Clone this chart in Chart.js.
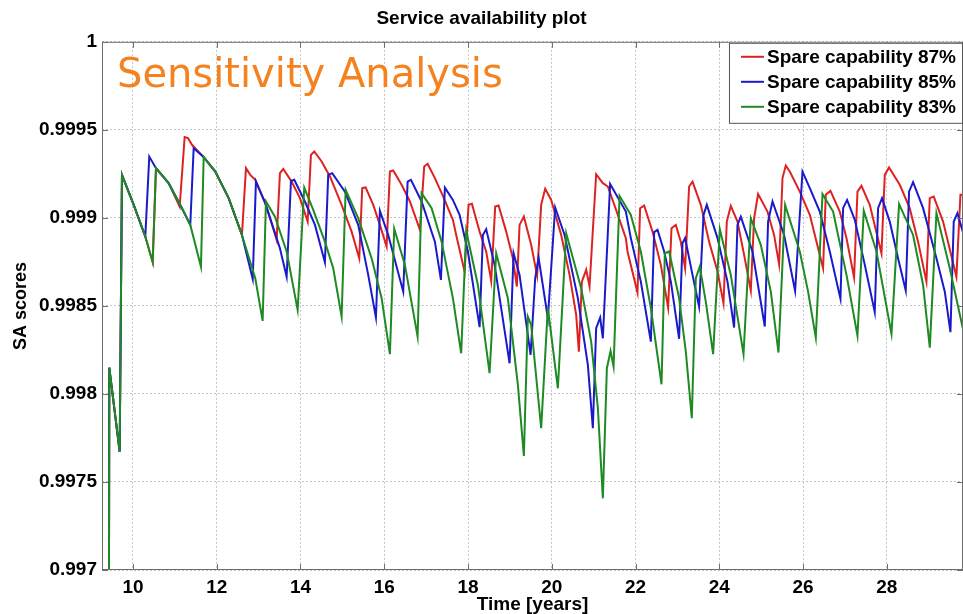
<!DOCTYPE html>
<html>
<head>
<meta charset="utf-8">
<title>Service availability plot</title>
<script src="https://cdn.jsdelivr.net/npm/chart.js@4.4.1/dist/chart.umd.min.js"></script>
<style>
  html, body { margin: 0; padding: 0; background: #fff; }
  #wrap { width: 963px; height: 614px; }
</style>
</head>
<body>
<div id="wrap"><canvas id="saChart" width="963" height="614"></canvas></div>
<script>
// [time in years, SA score] per spare-capability level
const sa87 = [
  [9.427,0.99700],[9.434,0.998149],[9.682,0.997672],[9.737,0.999244],[10.017,0.999074],[10.294,0.998894],[10.470,0.998748],[10.549,0.999282],[10.852,0.999197],
  [11.115,0.999064],[11.234,0.999459],[11.313,0.999453],[11.408,0.999415],[11.688,0.999345],[11.965,0.999263],[12.285,0.999112],[12.602,0.998903],
  [12.698,0.999282],[12.800,0.999244],[12.920,0.999216],[13.158,0.999084],[13.397,0.998903],[13.430,0.998875],
  [13.509,0.999254],[13.588,0.999278],[13.788,0.999206],[13.987,0.999112],[14.171,0.998979],
  [14.249,0.999358],[14.328,0.999377],[14.505,0.999320],[14.703,0.999235],[14.982,0.999074],[15.221,0.998922],[15.403,0.998771],
  [15.474,0.999169],[15.555,0.999173],[15.737,0.999074],[15.896,0.998960],[16.056,0.998837],
  [16.135,0.999263],[16.214,0.999269],[16.414,0.999188],[16.613,0.999093],[16.851,0.998932],
  [16.954,0.999292],[17.035,0.999307],[17.209,0.999226],[17.408,0.999121],[17.639,0.998989],[17.718,0.998903],[17.918,0.998695],
  [18.013,0.999074],[18.093,0.999080],[18.277,0.998922],[18.434,0.998809],[18.554,0.998642],
  [18.649,0.999064],[18.730,0.999070],[18.912,0.998922],[19.071,0.998771],[19.167,0.998610],
  [19.231,0.998960],[19.334,0.999007],[19.508,0.998847],[19.651,0.998672],
  [19.747,0.999074],[19.843,0.999165],[19.986,0.999102],[20.225,0.998903],[20.425,0.998676],[20.583,0.998449],[20.647,0.998240],
  [20.719,0.998638],[20.822,0.998705],[20.902,0.998610],
  [21.060,0.999248],[21.220,0.999197],[21.339,0.999178],[21.578,0.999017],[21.769,0.998885],[21.809,0.998809],[22.047,0.998576],
  [22.110,0.999055],[22.206,0.999070],[22.406,0.998922],[22.604,0.998733],[22.779,0.998490],
  [22.859,0.998941],[22.962,0.998960],[23.081,0.998865],[23.184,0.998714],
  [23.280,0.999178],[23.361,0.999206],[23.559,0.999074],[23.757,0.998865],[23.958,0.998695],[24.101,0.998515],
  [24.180,0.998979],[24.275,0.999068],[24.435,0.998979],[24.593,0.998790],[24.753,0.998587],
  [24.832,0.998998],[24.927,0.999135],[25.151,0.999036],[25.309,0.998903],[25.428,0.998737],
  [25.510,0.999226],[25.588,0.999297],[25.684,0.999263],[25.923,0.999149],[26.162,0.999017],[26.360,0.998828],[26.479,0.998714],
  [26.543,0.999131],[26.655,0.999153],[26.877,0.999036],[27.038,0.998885],[27.219,0.998661],
  [27.300,0.999149],[27.396,0.999182],[27.594,0.999074],[27.873,0.998799],
  [27.952,0.999244],[28.054,0.999286],[28.310,0.999188],[28.548,0.999055],[28.747,0.998865],[28.947,0.998638],
  [29.026,0.999112],[29.121,0.999121],[29.344,0.998979],[29.663,0.998666],
  [29.759,0.999131],[29.814,0.999131]
];

const sa85 = [
  [9.427,0.99700],[9.434,0.998149],[9.682,0.997672],[9.737,0.999244],[10.017,0.999074],[10.294,0.998894],
  [10.389,0.999348],[10.549,0.999282],[10.852,0.999197],[11.170,0.999055],[11.368,0.998960],
  [11.449,0.999396],[11.688,0.999345],[11.965,0.999263],[12.285,0.999112],[12.602,0.998903],
  [12.859,0.998653],[12.936,0.999206],[13.158,0.999084],[13.509,0.998828],[13.669,0.998666],
  [13.772,0.999210],[13.851,0.999216],[14.106,0.999093],[14.345,0.998960],[14.583,0.998748],
  [14.662,0.999244],[14.758,0.999254],[15.061,0.999149],[15.378,0.998960],[15.617,0.998676],[15.801,0.998434],
  [15.896,0.999040],[16.095,0.998903],[16.453,0.998581],
  [16.558,0.999206],[16.637,0.999216],[16.892,0.999093],[17.209,0.998865],[17.353,0.998648],
  [17.448,0.999172],[17.639,0.999102],[17.799,0.999017],[17.997,0.998809],[18.277,0.998379],
  [18.355,0.998903],[18.434,0.998936],[18.635,0.998733],[18.993,0.998174],
  [19.088,0.998799],[19.231,0.998676],[19.494,0.998222],
  [19.604,0.998657],[19.685,0.998774],[19.907,0.998430],
  [20.081,0.999059],[20.306,0.998903],[20.623,0.998544],[20.862,0.998165],[20.981,0.997805],
  [21.060,0.998373],[21.156,0.998434],[21.220,0.998316],
  [21.394,0.999192],[21.769,0.999036],[21.888,0.998885],[22.127,0.998638],[22.366,0.998297],
  [22.445,0.998919],[22.526,0.998932],[22.684,0.998809],[22.844,0.998638],[23.041,0.998313],
  [23.122,0.998856],[23.184,0.998885],[23.361,0.998676],[23.518,0.998496],
  [23.624,0.999017],[23.702,0.999074],[23.958,0.998885],[24.196,0.998638],[24.354,0.998377],
  [24.435,0.998960],[24.514,0.999007],[24.793,0.998809],[25.087,0.998383],
  [25.166,0.998979],[25.271,0.999093],[25.548,0.998903],[25.811,0.998585],
  [25.987,0.999263],[26.162,0.999169],[26.400,0.999036],[26.639,0.998809],[26.894,0.998540],
  [26.957,0.999055],[27.052,0.999102],[27.236,0.998989],[27.475,0.998733],[27.713,0.998464],
  [27.792,0.999055],[27.887,0.999112],[28.071,0.998979],[28.269,0.998771],[28.453,0.998587],
  [28.532,0.999149],[28.628,0.999203],[28.867,0.999055],[29.186,0.998771],[29.385,0.998581],[29.520,0.998351],
  [29.599,0.998979],[29.687,0.999027],[29.814,0.998922]
];

const sa83 = [
  [9.427,0.99700],[9.434,0.998149],[9.682,0.997672],[9.737,0.999244],[10.017,0.999074],[10.294,0.998894],[10.470,0.998748],
  [10.549,0.999282],[10.852,0.999197],[11.170,0.999055],[11.368,0.998960],[11.623,0.998723],
  [11.688,0.999345],[11.965,0.999263],[12.285,0.999112],[12.602,0.998903],[12.920,0.998657],[13.096,0.998415],
  [13.175,0.999093],[13.390,0.999007],[13.669,0.998809],[13.932,0.998477],
  [14.089,0.999172],[14.304,0.999045],[14.583,0.998865],[14.782,0.998714],[14.982,0.998439],
  [15.078,0.999159],[15.378,0.998998],[15.698,0.998771],[15.937,0.998544],[16.135,0.998226],
  [16.238,0.998938],[16.493,0.998733],[16.796,0.998326],
  [16.892,0.999140],[17.131,0.999055],[17.369,0.998865],[17.639,0.998544],[17.837,0.998231],
  [17.957,0.998926],[18.236,0.998619],[18.515,0.998118],
  [18.673,0.998799],[18.952,0.998544],[19.191,0.998051],[19.334,0.997648],
  [19.429,0.998439],[19.508,0.998392],[19.747,0.997805],
  [19.907,0.998490],[20.146,0.998032],
  [20.344,0.998913],[20.702,0.998601],[20.941,0.998297],[21.101,0.997919],[21.220,0.997407],
  [21.316,0.998146],[21.404,0.998244],[21.476,0.998155],
  [21.619,0.999125],[21.888,0.999017],[22.127,0.998809],[22.366,0.998487],[22.621,0.998055],
  [22.700,0.998799],[22.803,0.998809],[23.041,0.998544],[23.201,0.998240],[23.344,0.997862],
  [23.440,0.998657],[23.535,0.998723],[23.678,0.998524],[23.853,0.998226],
  [24.013,0.998936],[24.275,0.998676],[24.579,0.998226],
  [24.753,0.998998],[24.992,0.998847],[25.231,0.998581],[25.414,0.998235],
  [25.572,0.999074],[25.923,0.998809],[26.121,0.998581],[26.305,0.998320],
  [26.465,0.999135],[26.718,0.999036],[27.038,0.998676],[27.300,0.998331],
  [27.451,0.999040],[27.754,0.998809],[28.112,0.998341],
  [28.294,0.999078],[28.628,0.998903],[28.867,0.998619],[29.027,0.998263],
  [29.186,0.999027],[29.504,0.998714],[29.815,0.998373]
];

const seriesLabels = ['Spare capability 87%', 'Spare capability 85%', 'Spare capability 83%'];
const seriesColors = ['#dd2222', '#1a1acc', '#1e8a24'];
const xRange = [9.26, 29.82];
const xTickValues = [10, 12, 14, 16, 18, 20, 22, 24, 26, 28];
const yRange = [0.997, 1];

const fontFamily = '"Liberation Sans", Arial, Helvetica, sans-serif';

function toPoints(rows) {
  return rows.map(r => ({ x: r[0], y: r[1] }));
}

// box, inward ticks, legend and the overlay caption
const framePlugin = {
  id: 'frame',
  afterDraw(chart) {
    const { ctx, chartArea: a, scales } = chart;
    ctx.save();
    ctx.strokeStyle = '#6e6e6e';
    ctx.lineWidth = 1;
    ctx.strokeRect(a.left + 0.5, a.top + 0.5, a.right - a.left - 1, a.bottom - a.top - 1);

    ctx.beginPath();
    scales.x.ticks.forEach(t => {
      const px = Math.round(scales.x.getPixelForValue(t.value)) + 0.5;
      ctx.moveTo(px, a.bottom); ctx.lineTo(px, a.bottom - 6);
      ctx.moveTo(px, a.top); ctx.lineTo(px, a.top + 6);
    });
    scales.y.ticks.forEach(t => {
      const py = Math.round(scales.y.getPixelForValue(t.value)) + 0.5;
      ctx.moveTo(a.left, py); ctx.lineTo(a.left + 6, py);
      ctx.moveTo(a.right, py); ctx.lineTo(a.right - 6, py);
    });
    ctx.stroke();

    // caption
    ctx.fillStyle = '#f5821f';
    ctx.font = '40px "DejaVu Sans", Verdana, sans-serif';
    ctx.textBaseline = 'alphabetic';
    ctx.textAlign = 'left';
    ctx.fillText('Sensitivity Analysis', a.left + 15, a.top + 45);

    // legend
    ctx.font = 'bold 19px ' + fontFamily;
    const sets = chart.data.datasets;
    const textW = Math.max(...sets.map(d => ctx.measureText(d.label).width));
    const rowH = 25;
    const boxW = 12 + 23 + 4 + textW + 5;
    const boxH = sets.length * rowH + 5;
    const bx = a.right - 1 - boxW;
    const by = a.top + 1;
    ctx.fillStyle = '#fff';
    ctx.fillRect(bx, by, boxW, boxH);
    ctx.strokeStyle = '#555';
    ctx.strokeRect(bx + 0.5, by + 0.5, boxW, boxH);
    ctx.textBaseline = 'middle';
    sets.forEach((d, i) => {
      const cy = by + 14 + i * rowH;
      ctx.strokeStyle = d.borderColor;
      ctx.lineWidth = 2;
      ctx.beginPath();
      ctx.moveTo(bx + 12, cy); ctx.lineTo(bx + 35, cy);
      ctx.stroke();
      ctx.fillStyle = '#000';
      ctx.fillText(d.label, bx + 38, cy + 1);
    });
    ctx.restore();
  }
};

const tickFont = { family: fontFamily, size: 19, weight: 'bold' };

new Chart(document.getElementById('saChart'), {
  type: 'line',
  data: {
    datasets: [sa87, sa85, sa83].map((rows, i) => ({
      label: seriesLabels[i],
      data: toPoints(rows),
      borderColor: seriesColors[i],
      backgroundColor: seriesColors[i],
      borderWidth: 2,
      pointRadius: 0,
      tension: 0,
      order: 3 - i
    }))
  },
  options: {
    responsive: false,
    animation: false,
    layout: { padding: 0 },
    plugins: {
      legend: { display: false },
      tooltip: { enabled: false },
      title: {
        display: true,
        text: 'Service availability plot',
        color: '#000',
        font: { family: fontFamily, size: 19, weight: 'bold' },
        padding: { top: 7, bottom: 12 }
      }
    },
    scales: {
      x: {
        type: 'linear',
        min: xRange[0],
        max: xRange[1],
        ticks: {
          color: '#000',
          font: tickFont,
          padding: 6,
          maxRotation: 0,
          autoSkip: false
        },
        afterBuildTicks(scale) {
          scale.ticks = xTickValues.map(v => ({ value: v }));
        },
        afterFit(scale) { scale.height = 44; },
        grid: { color: '#c4c4c4', drawTicks: false },
        border: { display: false, dash: [2, 2] },
        title: {
          display: true,
          text: 'Time [years]',
          color: '#000',
          font: tickFont,
          padding: { top: 0, bottom: -2 }
        }
      },
      y: {
        min: yRange[0],
        max: yRange[1],
        ticks: {
          stepSize: 0.0005,
          color: '#000',
          font: tickFont,
          padding: 5,
          callback: v => String(Number(v.toFixed(4)))
        },
        afterFit(scale) { scale.width = 102; },
        grid: { color: '#c4c4c4', drawTicks: false },
        border: { display: false, dash: [2, 2] },
        title: {
          display: true,
          text: 'SA scores',
          color: '#000',
          font: { family: fontFamily, size: 18, weight: 'bold' },
          padding: { top: 10, bottom: 0 }
        }
      }
    }
  },
  plugins: [framePlugin]
});
</script>
</body>
</html>
